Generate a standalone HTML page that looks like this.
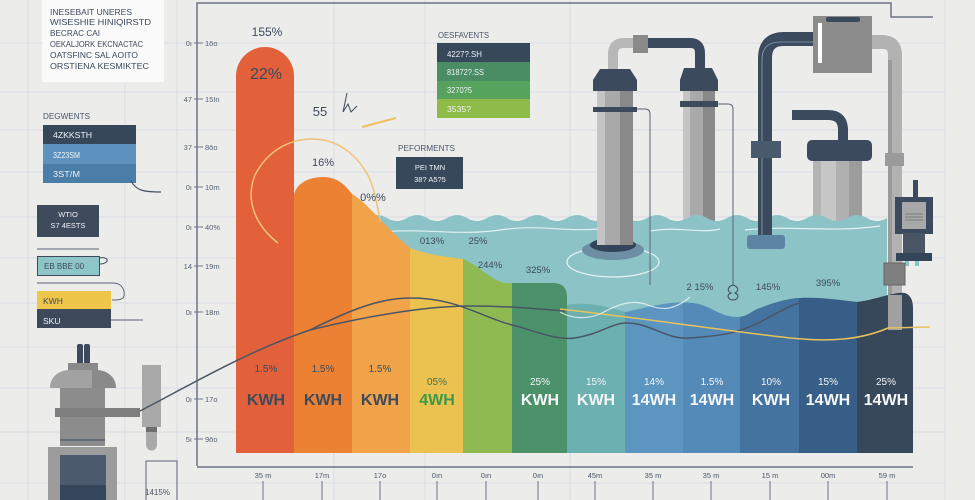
<!DOCTYPE html>
<html><head><meta charset="utf-8"><style>
html,body{margin:0;padding:0;background:#ececeb;}
svg{display:block;}
text{font-family:"Liberation Sans","Noto Sans CJK KR",sans-serif;}
</style></head><body>
<svg width="975" height="500" viewBox="0 0 975 500" xmlns="http://www.w3.org/2000/svg">
<rect width="975" height="500" fill="#ececeb"/>
<!-- grid -->
<g stroke="#d9dbe5" stroke-width="1">
<line x1="0" y1="43" x2="945" y2="43"/><line x1="0" y1="92" x2="945" y2="92"/><line x1="0" y1="130" x2="945" y2="130"/>
<line x1="0" y1="172" x2="945" y2="172"/><line x1="0" y1="217" x2="945" y2="217"/><line x1="0" y1="258" x2="945" y2="258"/>
<line x1="0" y1="303" x2="945" y2="303"/><line x1="0" y1="347" x2="945" y2="347"/><line x1="0" y1="388" x2="945" y2="388"/>
<line x1="0" y1="432" x2="945" y2="432"/><line x1="0" y1="483" x2="945" y2="483"/>
<line x1="28" y1="0" x2="28" y2="500"/><line x1="125" y1="0" x2="125" y2="500"/><line x1="177" y1="0" x2="177" y2="500"/>
<line x1="334" y1="0" x2="334" y2="500"/><line x1="425" y1="0" x2="425" y2="500"/><line x1="570" y1="0" x2="570" y2="500"/>
<line x1="945" y1="0" x2="945" y2="500"/>
</g>

<!-- top-left text box -->
<rect x="42" y="0" width="122" height="82" fill="#fafafa"/>
<g fill="#3d4a5c" font-size="8.5" lengthAdjust="spacingAndGlyphs">
<text x="50" y="15" textLength="82" lengthAdjust="spacingAndGlyphs">INESEBAIT UNERES</text>
<text x="50" y="25" textLength="101" lengthAdjust="spacingAndGlyphs">WISESHIE HINIQIRSTD</text>
<text x="50" y="36" textLength="50" lengthAdjust="spacingAndGlyphs">BECRAC CAI</text>
<text x="50" y="47" textLength="93" lengthAdjust="spacingAndGlyphs">OEKALJORK EKCNACTAC</text>
<text x="50" y="58" textLength="88" lengthAdjust="spacingAndGlyphs">OATSFINC SAL AOITO</text>
<text x="50" y="69" textLength="99" lengthAdjust="spacingAndGlyphs">ORSTIENA KESMIKTEC</text>
</g>

<!-- left legend -->
<text x="43" y="119" font-size="8" fill="#4a5566" textLength="47" lengthAdjust="spacingAndGlyphs">DEGWENTS</text>
<rect x="43" y="125" width="93" height="19" fill="#37475a"/>
<rect x="43" y="144" width="93" height="20" fill="#5c92bd"/>
<rect x="43" y="164" width="93" height="19" fill="#4a7ea8"/>
<g fill="#eef2f6" font-size="8">
<text x="53" y="138" textLength="39" lengthAdjust="spacingAndGlyphs">4ZKKSTH</text>
<text x="53" y="158" textLength="27" lengthAdjust="spacingAndGlyphs">3Z23SM</text>
<text x="53" y="177" textLength="27" lengthAdjust="spacingAndGlyphs">3ST/M</text>
</g>
<path d="M131,181 C136,190 142,192 161,192" stroke="#4a5566" stroke-width="1.2" fill="none"/>

<rect x="37" y="205" width="62" height="32" fill="#3d4b5d"/>
<text x="68" y="217" font-size="7.5" fill="#eef2f6" text-anchor="middle">WTIO</text>
<text x="68" y="228" font-size="7.5" fill="#eef2f6" text-anchor="middle">S7 4ESTS</text>
<line x1="37" y1="249" x2="99" y2="249" stroke="#5a6575" stroke-width="1"/>
<rect x="37.5" y="256.5" width="62" height="19" fill="#8ec5c8" stroke="#3d4b5d" stroke-width="1"/>
<text x="44" y="269" font-size="8" fill="#3d4b5d">EB   BBE   00</text>
<path d="M99,258 C110,256 110,264 99,264" stroke="#3d4b5d" stroke-width="1" fill="none"/>
<path d="M37,283 H113 C122,283 125,290 124,296 C123,300 118,300 112,300" stroke="#5a6575" stroke-width="1" fill="none"/>
<rect x="37" y="291" width="74" height="18" fill="#eec64a"/>
<rect x="37" y="309" width="74" height="19" fill="#3d4a5c"/>
<text x="43" y="304" font-size="8.5" fill="#3d4a5c">KWH</text>
<text x="43" y="324" font-size="8.5" fill="#f4f4f4">SKU</text>
<line x1="111" y1="320" x2="143" y2="320" stroke="#5a6575" stroke-width="1"/>

<!-- left machine -->
<rect x="77" y="344" width="6" height="20" rx="2" fill="#3d4a5c"/>
<rect x="84" y="344" width="6" height="20" rx="2" fill="#3d4a5c"/>
<rect x="68" y="363" width="30" height="8" fill="#8a8a8a"/>
<path d="M50,388 C50,376 60,370 70,370 H96 C108,370 116,378 116,388 Z" fill="#a2a2a2"/>
<path d="M92,370 H96 C108,370 116,378 116,388 H92 Z" fill="#8a8a8a"/>
<rect x="60" y="388" width="45" height="58" fill="#8c8c8c"/>
<line x1="60" y1="440" x2="105" y2="440" stroke="#55606c" stroke-width="1.5"/>
<rect x="55" y="408" width="85" height="9" fill="#7e7e7e"/>
<rect x="142" y="365" width="19" height="62" fill="#a9a9a9"/>
<rect x="146" y="427" width="11" height="5" fill="#6e6e6e"/>
<path d="M146,432 H157 V445 A5.5,5.5 0 0 1 146,445 Z" fill="#a9a9a9"/>
<rect x="48" y="447" width="69" height="53" fill="#9c9c9c"/>
<rect x="60" y="455" width="46" height="45" fill="#4b5b6d"/>
<rect x="60" y="485" width="46" height="15" fill="#36465a"/>
<path d="M146,500 V461 H177 V500" stroke="#5a6575" stroke-width="1" fill="none"/>
<text x="145" y="495" font-size="8" fill="#4a5566">1415%</text>

<!-- chart frame -->
<path d="M197,466 V3 H891 V17 H933" stroke="#6b7585" stroke-width="1.5" fill="none"/>
<line x1="197" y1="467" x2="913" y2="467" stroke="#6b7585" stroke-width="1.5"/>

<!-- left axis ticks -->
<g font-size="7.5" fill="#55606e">
<g stroke="#6b7585" stroke-width="1">
<line x1="194" y1="43" x2="203" y2="43"/><line x1="194" y1="99" x2="203" y2="99"/><line x1="194" y1="147" x2="203" y2="147"/>
<line x1="194" y1="187" x2="203" y2="187"/><line x1="194" y1="227" x2="203" y2="227"/><line x1="194" y1="266" x2="203" y2="266"/>
<line x1="194" y1="312" x2="203" y2="312"/><line x1="194" y1="399" x2="203" y2="399"/><line x1="194" y1="439" x2="203" y2="439"/>
</g>
<text x="192" y="46" text-anchor="end">0ı</text><text x="205" y="46">1ōo</text>
<text x="192" y="102" text-anchor="end">47</text><text x="205" y="102">15In</text>
<text x="192" y="150" text-anchor="end">37</text><text x="205" y="150">8ōo</text>
<text x="192" y="190" text-anchor="end">0ı</text><text x="205" y="190">10m</text>
<text x="192" y="230" text-anchor="end">0ı</text><text x="205" y="230">40%</text>
<text x="192" y="269" text-anchor="end">14</text><text x="205" y="269">19m</text>
<text x="192" y="315" text-anchor="end">0ı</text><text x="205" y="315">18m</text>
<text x="192" y="402" text-anchor="end">0ı</text><text x="205" y="402">17o</text>
<text x="192" y="442" text-anchor="end">5ı</text><text x="205" y="442">9ōo</text>
</g>

<!-- back pumps (behind water) -->
<path d="M792,115 H828 Q843,115 843,130 V142" stroke="#3b4a5c" stroke-width="10" fill="none"/>
<rect x="813" y="160" width="49" height="64" fill="#c6c6c6"/>
<rect x="813" y="160" width="8" height="64" fill="#b4b4b4"/>
<rect x="836" y="160" width="13" height="64" fill="#b0b0b0"/>
<rect x="849" y="160" width="13" height="64" fill="#9c9c9c"/>
<rect x="807" y="140" width="65" height="21" rx="5" fill="#3b4a5c"/>
<rect x="683" y="91" width="32" height="133" fill="#a9a9a9"/>
<rect x="683" y="91" width="7" height="133" fill="#c4c4c4"/>
<rect x="703" y="91" width="12" height="133" fill="#898989"/>
<path d="M684,68 H712 L718,80 V91 H680 V80 Z" fill="#3b4a5c"/>
<rect x="680" y="101" width="38" height="6" fill="#3b4a5c"/>

<!-- water -->
<path d="M367,218 q10,-6 20,0 t20,0 t20,0 t20,0 t20,0 t20,0 t20,0 t20,0 t20,0 t20,0 t20,0 t20,0 t20,0 t20,0 t20,0 t20,0 t20,0 t20,0 t20,0 t20,0 t20,0 t20,0 t20,0 t20,0 t20,0 t20,0 V453 H367 Z" fill="#8cc3c6"/>
<path d="M385,232 C420,228 460,236 500,230 S560,232 600,229 M650,231 C680,226 700,234 720,229 M745,230 C790,225 830,233 880,226" stroke="#ffffff" stroke-opacity="0.75" stroke-width="1.2" fill="none"/>
<ellipse cx="613" cy="262" rx="46" ry="15" stroke="#ffffff" stroke-opacity="0.8" stroke-width="1.2" fill="none"/>

<!-- pump 1 (front) -->
<ellipse cx="613" cy="250" rx="31" ry="10" fill="#6d8ea3"/>
<ellipse cx="613" cy="245" rx="23" ry="7" fill="#34445a"/>
<rect x="597" y="91" width="36" height="154" fill="#a9a9a9"/>
<rect x="597" y="91" width="8" height="154" fill="#c4c4c4"/>
<rect x="620" y="91" width="13" height="154" fill="#898989"/>
<path d="M613,70 V54 Q613,43 624,43 H634" stroke="#b8b8b8" stroke-width="10" fill="none"/>
<rect x="633" y="35" width="15" height="18" fill="#8a8a8a"/>
<path d="M648,43 H690 Q700,43 700,53 V70" stroke="#3b4a5c" stroke-width="10" fill="none"/>
<path d="M600,69 H630 L637,80 V91 H593 V80 Z" fill="#3b4a5c"/>
<rect x="593" y="107" width="44" height="5" fill="#3b4a5c"/>
<path d="M637,109 H645 Q650,109 650,114 V285" stroke="#5a6575" stroke-width="1" fill="none"/>
<path d="M718,104 H728 Q733,104 733,109 V285" stroke="#5a6575" stroke-width="1" fill="none"/>
<path d="M733,285 C727,287 727,291 731,293 C726,295 728,300 733,300 M733,285 C739,287 739,291 735,293 C740,295 738,300 733,300" stroke="#3d4a5c" stroke-width="1" fill="none"/>

<!-- pipe 3 and box -->
<path d="M765,245 V58 Q765,39 784,39 H815" stroke="#3b4a5c" stroke-width="14" fill="none"/>
<path d="M762,240 V60 Q762,42 780,42 H815" stroke="#8aa0b5" stroke-width="0.8" fill="none"/>
<rect x="751" y="141" width="30" height="17" fill="#4a5a6d"/>
<rect x="747" y="235" width="38" height="14" rx="3" fill="#5e84a4"/>
<path d="M870,42 H882 Q895,42 895,55 V330" stroke="#b2b2b2" stroke-width="14" fill="none"/>
<rect x="888" y="60" width="4" height="270" fill="#9a9a9a"/>
<rect x="813" y="16" width="59" height="57" fill="#8c8c8c"/>
<rect x="818" y="23" width="4" height="40" fill="#ffffff"/>
<rect x="826" y="17" width="34" height="5" rx="2" fill="#3b4a5c"/>
<rect x="885" y="153" width="19" height="13" fill="#9a9a9a"/>
<rect x="913" y="180" width="5" height="17" fill="#3b4a5c"/>
<rect x="895" y="197" width="38" height="37" fill="#3b4a5c"/>
<rect x="902" y="202" width="24" height="27" fill="#a8a8a8"/>
<g stroke="#6d6d6d" stroke-width="0.8"><line x1="905" y1="214" x2="923" y2="214"/><line x1="905" y1="217" x2="923" y2="217"/><line x1="905" y1="220" x2="923" y2="220"/></g>
<rect x="903" y="233" width="22" height="21" fill="#4a5566"/>
<rect x="896" y="253" width="36" height="8" fill="#34445a"/>
<rect x="905" y="261" width="4" height="5" fill="#8cc3c6"/><rect x="915" y="261" width="4" height="5" fill="#8cc3c6"/>
<rect x="884" y="263" width="21" height="22" fill="#7f7f7f" stroke="#666" stroke-width="1"/>

<!-- warm bars -->
<defs>
<clipPath id="warm"><path d="M294,453 V195 C296,184 308,177 323,177 C338,177 346,186 352,194 C362,200 368,207 376,215 C386,226 396,236 410,248 C425,254 445,257 463,259 C480,266 490,280 505,283 H553 Q567,283 567,297 V453 Z"/></clipPath>
<clipPath id="cool"><path d="M625,453 V312 C645,308 670,300 693,303 C710,305 720,317 737,317 C748,317 752,310 760,308 C775,302 790,298 800,298 C820,297 840,300 857,302 C875,300 895,291 905,293 Q913,296 913,308 V453 Z"/></clipPath>
</defs>
<path d="M236,453 V76 A29,29 0 0 1 294,76 V453 Z" fill="#e2603a"/>
<g clip-path="url(#warm)">
<rect x="294" y="150" width="58" height="303" fill="#ed8133"/>
<rect x="352" y="150" width="58" height="303" fill="#f0a348"/>
<rect x="410" y="150" width="53" height="303" fill="#ebc24f"/>
<rect x="463" y="150" width="49" height="303" fill="#8fba52"/>
<rect x="512" y="150" width="55" height="303" fill="#4b9169"/>
</g>
<path d="M567,453 V305 C580,302 600,304 625,312 V453 Z" fill="#6cb0b2"/>
<g clip-path="url(#cool)">
<rect x="625" y="280" width="58" height="173" fill="#5c96c0"/>
<rect x="683" y="280" width="57" height="173" fill="#538ab7"/>
<rect x="740" y="280" width="59" height="173" fill="#44739f"/>
<rect x="799" y="280" width="58" height="173" fill="#365e87"/>
<rect x="857" y="280" width="56" height="173" fill="#37485b"/>
</g>
<path d="M880,300 H895 Q903,300 903,308 V330 H887 Z" fill="#9a9a9a" opacity="0"/>
<rect x="888" y="295" width="14" height="35" fill="#a0a0a0"/>

<!-- curves -->
<path d="M278,243 C255,225 245,200 255,175 C268,150 290,139 312,139 C345,139 368,165 375,195 C378,210 380,218 380,222" stroke="#f0c27a" stroke-width="1.5" fill="none"/>
<path d="M140,411 C190,385 250,350 310,330 C350,310 380,298 410,298 C460,298 480,318 520,327 C545,335 560,340 575,338 C600,334 610,324 625,323 C650,322 665,340 690,338 C715,336 735,335 760,322 C780,312 790,305 800,303" stroke="#4a5566" stroke-width="1.5" fill="none"/>
<path d="M310,330 C360,318 420,306 470,306 C510,306 540,309 565,311" stroke="#4a5566" stroke-width="1.5" fill="none"/>
<path d="M560,309 C640,318 720,330 790,338 C830,342 860,340 888,328 L930,327" stroke="#e6c25a" stroke-width="1.5" fill="none"/>
<path d="M560,312 C570,318 585,320 600,314 C615,306 630,299 645,304 C660,310 672,312 690,297" stroke="#ffffff" stroke-opacity="0.7" stroke-width="1.2" fill="none"/>
<path d="M343,112 L347,93 M343,112 L348,104 L351,112 L357,106" stroke="#3d4a5c" stroke-width="1" fill="none"/>
<line x1="362" y1="127" x2="396" y2="118" stroke="#f0c060" stroke-width="2"/>

<!-- top-middle legend -->
<text x="438" y="38" font-size="8" fill="#4a5566" textLength="51" lengthAdjust="spacingAndGlyphs">OESFAVENTS</text>
<rect x="437" y="43" width="93" height="19" fill="#37485a"/>
<rect x="437" y="62" width="93" height="19" fill="#4a8c64"/>
<rect x="437" y="81" width="93" height="18" fill="#55a35c"/>
<rect x="437" y="99" width="93" height="19" fill="#8fbc48"/>
<g fill="#eef2f6" font-size="8">
<text x="447" y="57" textLength="35" lengthAdjust="spacingAndGlyphs">4227?.SH</text>
<text x="447" y="75" textLength="37" lengthAdjust="spacingAndGlyphs">81872?.SS</text>
<text x="447" y="93" textLength="25" lengthAdjust="spacingAndGlyphs">3270?5</text>
<text x="447" y="112" textLength="24" lengthAdjust="spacingAndGlyphs">3535?</text>
</g>
<text x="398" y="151" font-size="8" fill="#4a5566" textLength="57" lengthAdjust="spacingAndGlyphs">PEFORMENTS</text>
<rect x="396" y="157" width="67" height="32" fill="#37485a"/>
<text x="430" y="170" font-size="7.5" fill="#eef2f6" text-anchor="middle">PEI TMN</text>
<text x="430" y="182" font-size="7.5" fill="#eef2f6" text-anchor="middle">38? A5?5</text>

<!-- value labels -->
<g fill="#3d4a5c" text-anchor="middle">
<text x="267" y="36" font-size="12">155%</text>
<text x="266" y="79" font-size="16">22%</text>
<text x="320" y="116" font-size="13">55</text>
<text x="323" y="166" font-size="11">16%</text>
<text x="373" y="201" font-size="11">0%%</text>
<g font-size="9.5">
<text x="432" y="244">013%</text><text x="478" y="244">25%</text>
<text x="490" y="268">244%</text><text x="538" y="273">325%</text>
<text x="700" y="290">2 15%</text><text x="768" y="290">145%</text><text x="828" y="286">395%</text>
</g>
<g font-size="10">
<text x="266" y="372">1.5%</text><text x="323" y="372">1.5%</text><text x="380" y="372">1.5%</text>
<text x="437" y="385" fill="#4f6b4a">05%</text>
</g>
<g font-size="16" font-weight="bold">
<text x="266" y="405">KWH</text><text x="323" y="405">KWH</text><text x="380" y="405">KWH</text>
<text x="437" y="405" fill="#3a9a4a">4WH</text>
</g>
<g fill="#f4f6f8" font-size="10">
<text x="540" y="385">25%</text><text x="596" y="385">15%</text><text x="654" y="385">14%</text>
<text x="712" y="385">1.5%</text><text x="771" y="385">10%</text><text x="828" y="385">15%</text><text x="886" y="385">25%</text>
</g>
<g fill="#f4f6f8" font-size="16" font-weight="bold">
<text x="540" y="405">KWH</text><text x="596" y="405">KWH</text><text x="654" y="405">14WH</text>
<text x="712" y="405">14WH</text><text x="771" y="405">KWH</text><text x="828" y="405">14WH</text><text x="886" y="405">14WH</text>
</g>
</g>

<!-- bottom axis -->
<g stroke="#6b7585" stroke-width="1">
<line x1="263" y1="481" x2="263" y2="500"/><line x1="322" y1="481" x2="322" y2="500"/><line x1="380" y1="481" x2="380" y2="500"/>
<line x1="437" y1="481" x2="437" y2="500"/><line x1="486" y1="481" x2="486" y2="500"/><line x1="538" y1="481" x2="538" y2="500"/>
<line x1="595" y1="481" x2="595" y2="500"/><line x1="653" y1="481" x2="653" y2="500"/><line x1="711" y1="481" x2="711" y2="500"/>
<line x1="770" y1="481" x2="770" y2="500"/><line x1="828" y1="481" x2="828" y2="500"/><line x1="887" y1="481" x2="887" y2="500"/>
</g>
<g font-size="7.5" fill="#4a5566" text-anchor="middle">
<text x="263" y="478">35 m</text><text x="322" y="478">17m</text><text x="380" y="478">17o</text>
<text x="437" y="478">0ın</text><text x="486" y="478">0ın</text><text x="538" y="478">0ın</text>
<text x="595" y="478">45m</text><text x="653" y="478">35 m</text><text x="711" y="478">35 m</text>
<text x="770" y="478">15 m</text><text x="828" y="478">00m</text><text x="887" y="478">59 m</text>
</g>
</svg>
</body></html>
